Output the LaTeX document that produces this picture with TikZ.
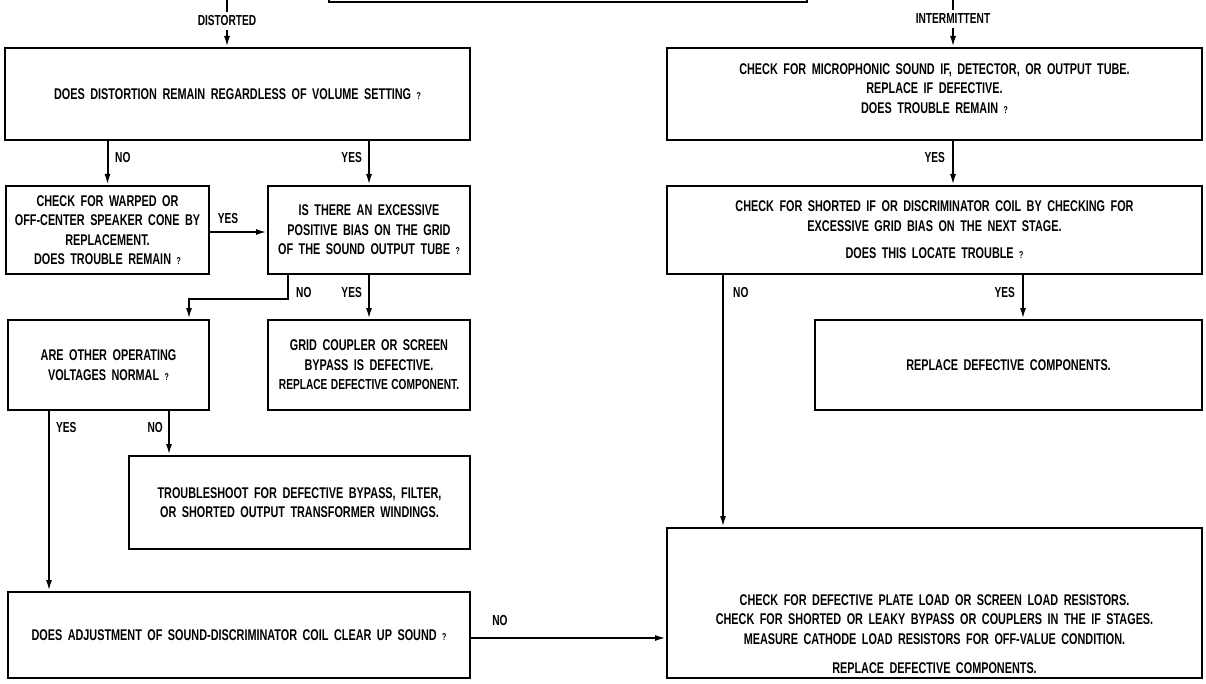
\documentclass[tikz,border=0pt]{standalone}
\usepackage{fontspec}
\setmainfont{Liberation Sans}[FakeStretch=0.7]
\usetikzlibrary{arrows.meta,calc}
\newcommand{\qm}{{\fontsize{10}{10}\selectfont ?}}
\newcommand{\bodyfont}{\bfseries\fontsize{15.5}{19.5}\selectfont\spaceskip=5.5pt\relax}
\tikzset{
  box/.style={draw, line width=2pt, rectangle, inner sep=0pt, align=center,
    font=\bodyfont},
  txt/.style={inner sep=0pt, align=center, font=\bodyfont},
  lbl/.style={inner sep=0pt, font=\bfseries\fontsize{14.5}{16}\selectfont},
  ln/.style={line width=2pt},
  arr/.style={line width=2pt, -{Latex[length=11pt,width=6pt]}},
}
\begin{document}
\begin{tikzpicture}[x=1pt,y=-1pt]
\useasboundingbox (0,0) rectangle (1206,684);
% boxes
\node[box, minimum width=478, minimum height=60] (top) at (568,-28) {};
\node[box, minimum width=465, minimum height=92] (b1) at (237.5,94) {DOES DISTORTION REMAIN REGARDLESS OF VOLUME SETTING \qm};
\node[box, minimum width=203, minimum height=88] (b2) at (107.5,230) {CHECK FOR WARPED OR\\OFF-CENTER SPEAKER CONE BY\\REPLACEMENT.\\DOES TROUBLE REMAIN \qm};
\node[box, minimum width=202, minimum height=88] (b3) at (369,230) {IS THERE AN EXCESSIVE\\POSITIVE BIAS ON THE GRID\\OF THE SOUND OUTPUT TUBE \qm};
\node[box, minimum width=201, minimum height=90] (b4) at (108.5,365) {ARE OTHER OPERATING\\VOLTAGES NORMAL \qm};
\node[box, minimum width=202, minimum height=90] (b5) at (369,365) {GRID COUPLER OR SCREEN\\BYPASS IS DEFECTIVE.\\{\fontsize{14.5}{19.5}\selectfont\spaceskip=3.5pt\relax REPLACE DEFECTIVE COMPONENT.}};
\node[box, minimum width=341, minimum height=93] (b6) at (299.5,502.5) {TROUBLESHOOT FOR DEFECTIVE BYPASS, FILTER,\\OR SHORTED OUTPUT TRANSFORMER WINDINGS.};
\node[box, minimum width=462, minimum height=86] (b7) at (239,635) {DOES ADJUSTMENT OF SOUND-DISCRIMINATOR COIL CLEAR UP SOUND \qm};
\node[box, minimum width=535, minimum height=92] (r1) at (934.5,94) {};
\node[txt] (r1t) at (934.5,88.5) {CHECK FOR MICROPHONIC SOUND IF, DETECTOR, OR OUTPUT TUBE.\\REPLACE IF DEFECTIVE.\\DOES TROUBLE REMAIN \qm};
\node[box, minimum width=535, minimum height=88] (r2) at (934.5,230) {CHECK FOR SHORTED IF OR DISCRIMINATOR COIL BY CHECKING FOR\\EXCESSIVE GRID BIAS ON THE NEXT STAGE.\\[8pt]DOES THIS LOCATE TROUBLE \qm};
\node[box, minimum width=387, minimum height=90] (r3) at (1008.5,365) {REPLACE DEFECTIVE COMPONENTS.};
\node[box, minimum width=535, minimum height=150] (r4) at (934.5,603) {};
\node[txt] (r4t) at (934.5,634) {CHECK FOR DEFECTIVE PLATE LOAD OR SCREEN LOAD RESISTORS.\\CHECK FOR SHORTED OR LEAKY BYPASS OR COUPLERS IN THE IF STAGES.\\MEASURE CATHODE LOAD RESISTORS FOR OFF-VALUE CONDITION.\\[10pt]REPLACE DEFECTIVE COMPONENTS.};
% entry labels
\coordinate (inL) at (227,-5);
\node[lbl, outer sep=4pt] (dl) at (227,21) {DISTORTED};
\coordinate (inR) at (953,-5);
\node[lbl, outer sep=4pt] (il) at (953,19) {INTERMITTENT};
\draw[ln] (inL) -- (dl.north);
\draw[arr] (dl.south) -- (dl.south |- b1.north);
\draw[ln] (inR) -- (il.north);
\draw[arr] (il.south) -- (il.south |- r1.north);
% left flow
\draw[arr] (b1.south -| b2.north) -- (b2.north);
\node[lbl, anchor=west] at (115,158) {NO};
\draw[arr] (b1.south -| b3.north) -- (b3.north);
\node[lbl, anchor=east] at (362,158) {YES};
\draw[arr] ([yshift=-2pt]b2.east) -- ([yshift=-2pt]b2.east -| b3.west);
\node[lbl] at (228,219) {YES};
\draw[arr] ([xshift=-81pt]b3.south) -- ++(0,24) -| ([xshift=80.5pt]b4.north);
\node[lbl, anchor=west] at (296,293) {NO};
\draw[arr] (b3.south) -- (b5.north);
\node[lbl, anchor=east] at (362,293) {YES};
\draw[arr] ([xshift=-59.5pt]b4.south) coordinate (y1) -- (y1 |- b7.north);
\node[lbl, anchor=west] at (56,428) {YES};
\draw[arr] ([xshift=60.5pt]b4.south) coordinate (n1) -- (n1 |- b6.north);
\node[lbl, anchor=east] at (163,428) {NO};
\draw[arr] ([yshift=-3pt]b7.east) -- ([yshift=-3pt]b7.east -| r4.west);
\node[lbl] at (500,621) {NO};
% right flow
\draw[arr] (r1.south -| il.south) -- (r2.north -| il.south);
\node[lbl, anchor=east] at (945,158) {YES};
\draw[arr] ([xshift=-211.5pt]r2.south) coordinate (n2) -- (n2 |- r4.north);
\node[lbl, anchor=west] at (733,293) {NO};
\draw[arr] ([xshift=88.5pt]r2.south) coordinate (y2) -- (y2 |- r3.north);
\node[lbl, anchor=east] at (1015,293) {YES};
\end{tikzpicture}
\end{document}
